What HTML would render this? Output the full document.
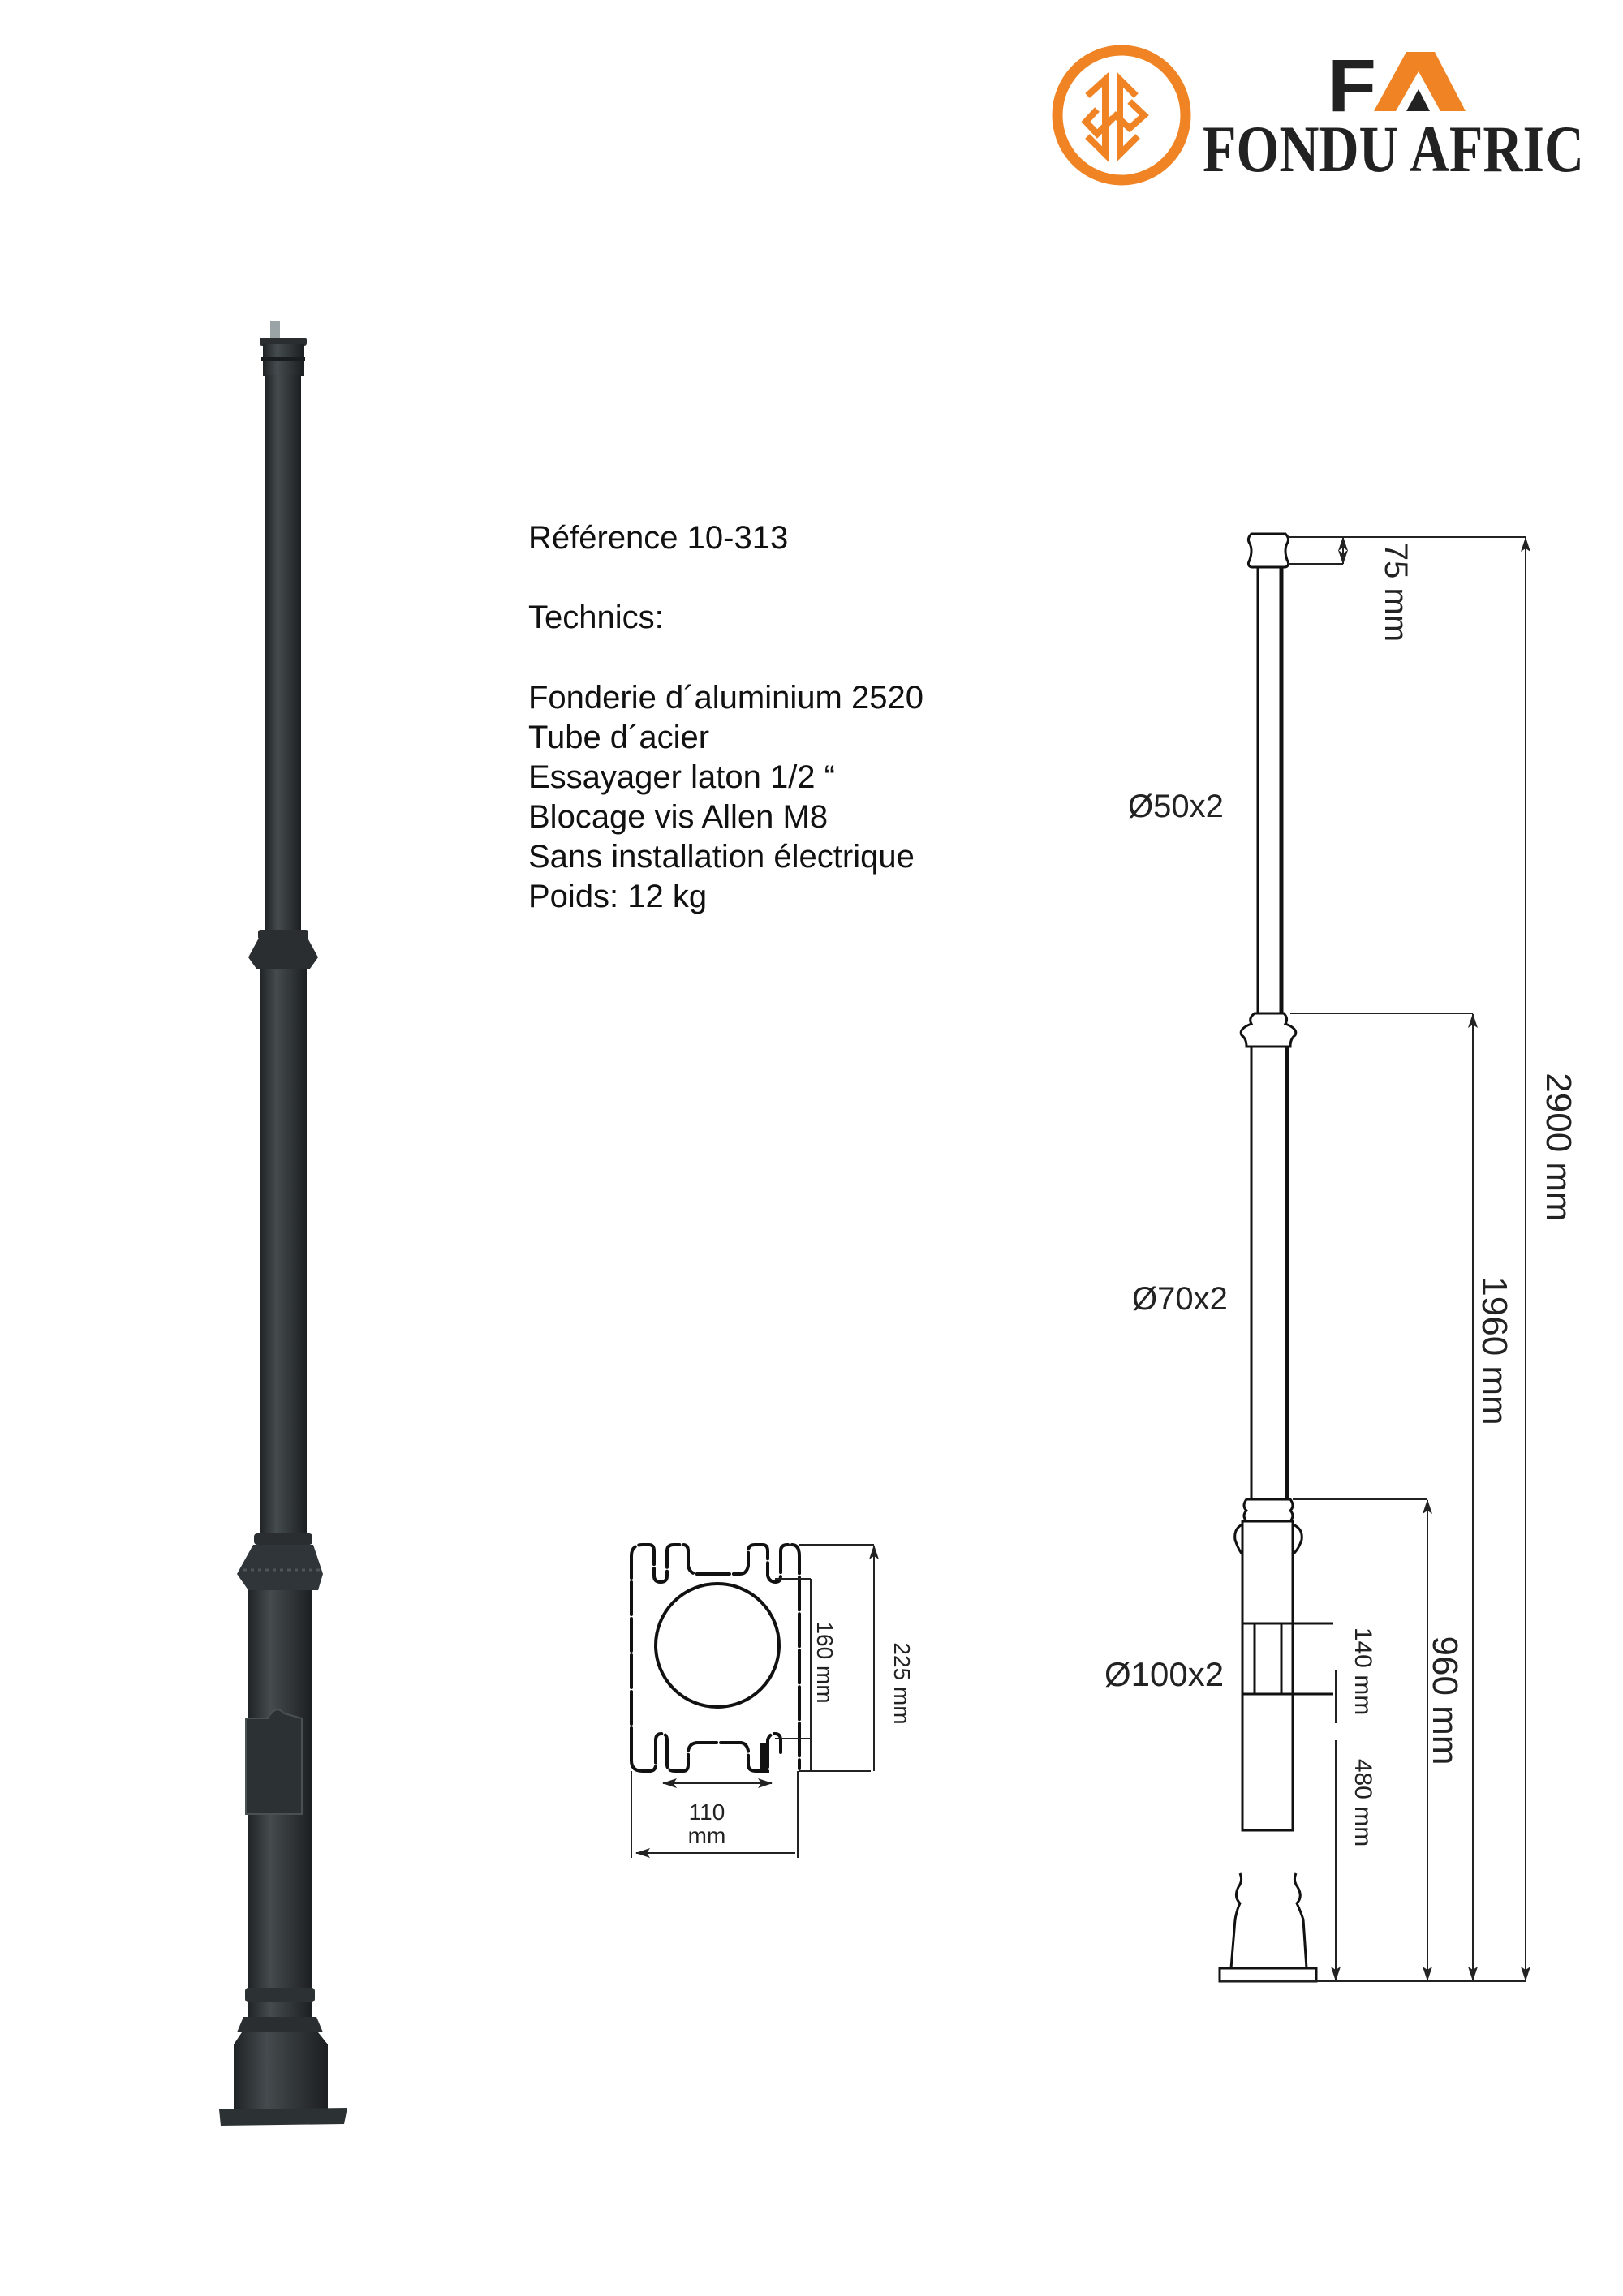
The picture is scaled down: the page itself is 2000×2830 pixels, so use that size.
<!DOCTYPE html>
<html><head><meta charset="utf-8"><style>
html,body{margin:0;padding:0;background:#fff}
svg{display:block}
</style></head><body>
<svg width="2000" height="2830" viewBox="0 0 2000 2830" xmlns="http://www.w3.org/2000/svg" font-family="Liberation Sans, Arial, sans-serif">
<defs>
<linearGradient id="pg" x1="0" x2="1" y1="0" y2="0">
<stop offset="0" stop-color="#1f2325"/><stop offset="0.35" stop-color="#454b4e"/><stop offset="0.6" stop-color="#353a3c"/><stop offset="1" stop-color="#1c1f21"/>
</linearGradient>
<marker id="ah" markerWidth="18" markerHeight="18" refX="17" refY="6" orient="auto-start-reverse" markerUnits="userSpaceOnUse" viewBox="0 0 18 12">
<path d="M0,0 L18,6 L0,12 L4,6 Z" fill="#222"/></marker>
</defs>

<!-- LOGO -->
<ellipse cx="1382" cy="142" rx="79" ry="80" fill="none" stroke="#f08424" stroke-width="13"/>
<g fill="none" stroke="#f08424" stroke-width="8" stroke-linejoin="miter">
<path d="M1340,118 L1362,98 L1362,190"/>
<path d="M1362,98 L1362,190 L1340,168"/>
<path d="M1400,118 L1380,98 L1380,190 L1402,168"/>
<path d="M1352,135 L1338,150 L1352,165 L1372,145"/>
<path d="M1392,125 L1410,142 L1392,158 L1372,140"/>
</g>
<text x="1636" y="137" font-family="Liberation Sans, sans-serif" font-weight="bold" font-size="92" fill="#222" textLength="60" lengthAdjust="spacingAndGlyphs">F</text>
<path d="M1693,137 L1733,64 L1768,64 L1806,137 L1775,137 L1748,88 L1720,137 Z" fill="#f08424"/>
<path d="M1733,137 L1748,110 L1762,137 Z" fill="#222"/>
<text x="1482" y="211" font-family="Liberation Serif, serif" font-weight="bold" font-size="82" fill="#222" textLength="470" lengthAdjust="spacingAndGlyphs">FONDU AFRIC</text>

<!-- PHOTO POLE -->
<rect x="333" y="396" width="12" height="22" fill="#9aa3a6"/>
<rect x="320" y="416" width="58" height="10" rx="3" fill="#2a2e30"/>
<rect x="324" y="424" width="50" height="40" fill="url(#pg)"/>
<rect x="322" y="440" width="54" height="5" fill="#1a1d1f"/>
<rect x="327" y="462" width="44" height="690" fill="url(#pg)"/>
<rect x="318" y="1146" width="62" height="12" rx="3" fill="#2a2e30"/>
<path d="M318,1158 L380,1158 L392,1180 L382,1194 L316,1194 L306,1180 Z" fill="#2a2e30"/>
<rect x="320" y="1194" width="58" height="700" fill="url(#pg)"/>
<rect x="313" y="1890" width="72" height="14" rx="4" fill="#2a2e30"/>
<path d="M312,1904 L386,1904 L398,1940 L392,1960 L306,1960 L292,1940 Z" fill="#30353a"/>
<path d="M300,1935 L396,1935" stroke="#4e5558" stroke-width="3" stroke-dasharray="4,5"/>
<rect x="305" y="1960" width="80" height="495" fill="url(#pg)"/>
<path d="M303,2118 L330,2118 Q340,2100 350,2112 L372,2118 L372,2236 L303,2236 Z" fill="#2c3133" stroke="#4a5154" stroke-width="2"/>
<rect x="302" y="2450" width="86" height="18" rx="4" fill="#2c3134"/>
<rect x="305" y="2468" width="80" height="18" fill="url(#pg)"/>
<path d="M300,2486 L390,2486 L398,2505 L292,2505 Z" fill="#2a2e30"/>
<path d="M298,2505 L392,2505 L404,2520 L404,2600 L288,2600 L288,2520 Z" fill="url(#pg)"/>
<path d="M270,2600 L428,2598 L424,2618 L272,2620 Z" fill="#2c3134"/>

<!-- TEXT -->
<g font-size="40" fill="#111">
<text x="651" y="676">Référence 10-313</text>
<text x="651" y="774">Technics:</text>
<text x="651" y="873">Fonderie d´aluminium 2520</text>
<text x="651" y="922">Tube d´acier</text>
<text x="651" y="971">Essayager laton 1/2 “</text>
<text x="651" y="1020">Blocage vis Allen M8</text>
<text x="651" y="1069">Sans installation électrique</text>
<text x="651" y="1118">Poids: 12 kg</text>
</g>

<!-- BASE PLATE DRAWING -->
<g fill="none" stroke="#111" stroke-width="4" stroke-linecap="round">
<path d="M778,2170 L778,1918 Q778,1904 792,1904 L800,1904 Q806,1904 806,1912 L806,1942 Q806,1950 814,1950 Q822,1950 822,1942 L822,1912 Q822,1904 830,1904 L842,1904 Q848,1904 848,1912 L848,1930 Q850,1940 860,1940 L912,1940 Q920,1940 922,1930 L922,1912 Q922,1904 930,1904 L940,1904 Q946,1904 946,1912 L946,1942 Q948,1950 956,1950 Q962,1950 962,1942 L962,1912 Q962,1904 970,1904 L976,1904 Q985,1904 985,1918 L985,2180" stroke-dasharray="40,5"/>
<path d="M778,2170 Q778,2183 792,2183 L800,2183 Q808,2183 808,2175 L808,2145 Q808,2137 815,2137 Q822,2137 822,2145 L822,2175 Q822,2183 832,2183 L842,2183 Q848,2183 848,2175 L848,2158 Q850,2148 860,2148 L912,2148 Q920,2148 922,2158 L922,2175 Q922,2183 932,2183 L946,2183 Q946,2175 946,2145 Q948,2137 955,2137 Q962,2137 962,2145 L962,2160" stroke-dasharray="40,5"/>
<circle cx="884" cy="2028" r="76"/>
</g>
<rect x="937" y="2148" width="9" height="34" fill="#111"/>
<g stroke="#222" stroke-width="2" fill="none">
<line x1="955" y1="1946" x2="999" y2="1946"/><line x1="955" y1="2143" x2="999" y2="2143"/>
<line x1="999" y1="1946" x2="999" y2="2183"/>
<line x1="985" y1="1904" x2="1077" y2="1904"/><line x1="985" y1="2183" x2="1073" y2="2183"/>
<line x1="1077" y1="1905" x2="1077" y2="2183" marker-start="url(#ah)"/>
<line x1="817" y1="2198" x2="951" y2="2198" marker-start="url(#ah)" marker-end="url(#ah)"/>
<line x1="784" y1="2284" x2="980" y2="2284" marker-start="url(#ah)"/>
<line x1="778" y1="2183" x2="778" y2="2290"/><line x1="983" y1="2183" x2="983" y2="2290"/>
</g>
<g font-size="28" fill="#222">
<text transform="translate(1007,2049) rotate(90)" text-anchor="middle">160 mm</text>
<text transform="translate(1102,2075) rotate(90)" text-anchor="middle">225 mm</text>
<text x="871" y="2243" text-anchor="middle">110</text>
<text x="871" y="2272" text-anchor="middle">mm</text>
</g>

<!-- TECH DRAWING -->
<g fill="none" stroke="#111" stroke-width="3">
<path d="M1542,658 L1584,658 Q1590,664 1586,670 Q1582,678 1586,690 Q1590,697 1584,699 L1542,699 Q1536,697 1540,690 Q1544,678 1540,670 Q1536,664 1542,658 Z"/>
<line x1="1550" y1="699" x2="1550" y2="1249"/>
<line x1="1579" y1="699" x2="1579" y2="1249" stroke-width="5"/>
<path d="M1546,1249 L1582,1249 Q1588,1255 1584,1262 Q1600,1268 1596,1276 Q1590,1280 1590,1290 L1536,1290 Q1536,1280 1530,1276 Q1526,1268 1542,1262 Q1538,1255 1546,1249 Z"/>
<line x1="1542" y1="1290" x2="1542" y2="1848"/>
<line x1="1586" y1="1290" x2="1586" y2="1848" stroke-width="5"/>
<path d="M1536,1848 L1590,1848 Q1596,1856 1590,1862 Q1596,1868 1590,1875 L1536,1875 Q1530,1868 1536,1862 Q1530,1856 1536,1848 Z"/>
<path d="M1531,1879 Q1520,1884 1522,1898 Q1526,1910 1531,1916"/>
<path d="M1593,1879 Q1606,1884 1604,1898 Q1600,1910 1593,1916"/>
<rect x="1531" y="1875" width="62" height="381"/>
<line x1="1531" y1="2001" x2="1643" y2="2001"/>
<line x1="1531" y1="2088" x2="1643" y2="2088"/>
<line x1="1546" y1="2001" x2="1546" y2="2088"/>
<line x1="1579" y1="2001" x2="1579" y2="2088"/>
<path d="M1528,2309 Q1532,2318 1526,2326 Q1520,2338 1528,2346 Q1524,2354 1522,2366 L1517,2426"/>
<path d="M1597,2309 Q1593,2318 1599,2326 Q1606,2338 1598,2346 Q1602,2354 1606,2366 L1610,2426"/>
<path d="M1503,2442 L1503,2426 L1622,2426 L1622,2442 Z"/>
</g>
<g stroke="#222" stroke-width="2" fill="none">
<line x1="1587" y1="662" x2="1880" y2="662"/>
<line x1="1880" y1="663" x2="1880" y2="2441" marker-start="url(#ah)" marker-end="url(#ah)"/>
<line x1="1587" y1="695" x2="1655" y2="695"/>
<line x1="1655" y1="662" x2="1655" y2="695" marker-start="url(#ah)" marker-end="url(#ah)"/>
<line x1="1590" y1="1249" x2="1815" y2="1249"/>
<line x1="1815" y1="1250" x2="1815" y2="2441" marker-start="url(#ah)" marker-end="url(#ah)"/>
<line x1="1593" y1="1848" x2="1759" y2="1848"/>
<line x1="1759" y1="1849" x2="1759" y2="2441" marker-start="url(#ah)" marker-end="url(#ah)"/>
<line x1="1646" y1="2059" x2="1646" y2="2124"/>
<line x1="1646" y1="2145" x2="1646" y2="2441" marker-end="url(#ah)"/>
<line x1="1503" y1="2442" x2="1880" y2="2442"/>
</g>
<g fill="#222">
<text font-size="40" transform="translate(1707,730) rotate(90)" text-anchor="middle">75 mm</text>
<text font-size="44" transform="translate(1906,1414) rotate(90)" text-anchor="middle">2900 mm</text>
<text font-size="44" transform="translate(1827,1665) rotate(90)" text-anchor="middle">1960 mm</text>
<text font-size="44" transform="translate(1766,2096) rotate(90)" text-anchor="middle">960 mm</text>
<text font-size="30" transform="translate(1670,2060) rotate(90)" text-anchor="middle">140 mm</text>
<text font-size="30" transform="translate(1670,2222) rotate(90)" text-anchor="middle">480 mm</text>
<text font-size="40" x="1390" y="1007">Ø50x2</text>
<text font-size="40" x="1395" y="1614">Ø70x2</text>
<text font-size="42" x="1361" y="2078">Ø100x2</text>
</g>
</svg>
</body></html>
